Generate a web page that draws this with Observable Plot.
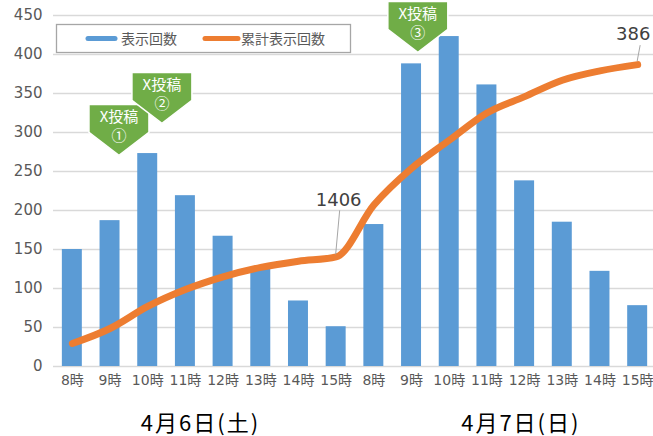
<!DOCTYPE html>
<html><head><meta charset="utf-8">
<script src="https://cdn.jsdelivr.net/npm/d3@7"></script>
<script src="https://cdn.jsdelivr.net/npm/@observablehq/plot@0.6"></script>
<style>
body{margin:0;background:#fff;}
#chart{width:653px;height:436px;}
</style></head><body><div id="chart"></div>
<script>
// ---- data ----
const hours = ["8時","9時","10時","11時","12時","13時","14時","15時","8時","9時","10時","11時","12時","13時","14時","15時"];
const views = [150,187,273,219,167,126,84,51,182,388,423,361,238,185,122,78];
const cumulative = [295,487,770,987,1150,1270,1350,1406,2070,2540,2900,3250,3460,3670,3790,3870];
const days = ["4月6日(土)","4月7日(日)"];
const dayCenters = [3.4, 11.9];
const yTicks = [0,50,100,150,200,250,300,350,400,450];
const primaryMax = 450;
const secondaryMax = 4500; // hidden secondary axis for the cumulative line
const pointLabels = [{i:7, text:"1406"}, {i:15, text:"386"}];
const posts = [{x:1.25, y:270, num:"①"}, {x:2.39, y:311, num:"②"}, {x:9.18, y:402, num:"③"}];
const legendItems = [{name:"表示回数", color:"#5B9BD5"}, {name:"累計表示回数", color:"#ED7D31"}];

const BLUE = "#5B9BD5", ORANGE = "#ED7D31", GREEN = "#70AD47";
const FONT = "'DejaVu Sans','Noto Sans CJK JP',sans-serif";
const JFONT = "'Noto Sans CJK JP',sans-serif";

const data = hours.map((h, i) => ({i, h, v: views[i], c: cumulative[i]}));
const toPrimary = c => c * primaryMax / secondaryMax;

const plot = Plot.plot({
  width: 653, height: 436,
  marginLeft: 53, marginRight: 0, marginTop: 15, marginBottom: 70,
  x: {type: "linear", domain: [-0.5, 15.42], axis: null},
  y: {domain: [0, 450], axis: null},
  style: {fontFamily: FONT, background: "white", overflow: "visible"},
  marks: [
    Plot.ruleY(yTicks, {stroke: "#D9D9D9", strokeWidth: 1.3}),
    Plot.rectY(data, {x1: d => d.i - 0.265, x2: d => d.i + 0.265, y: "v", fill: BLUE}),
    Plot.line(data, {x: "i", y: d => toPrimary(d.c), stroke: ORANGE, strokeWidth: 7,
      curve: "monotone-x", strokeLinecap: "round", strokeLinejoin: "round"}),
    Plot.axisY(yTicks, {tickSize: 0, tickPadding: 11, fontSize: 15, fill: "#595959", label: null}),
    Plot.axisX(d3.range(16), {tickSize: 0, tickPadding: 9, fontSize: 14, fill: "#595959",
      tickFormat: i => hours[i], label: null}),
    Plot.text(days, {x: (d, k) => dayCenters[k], y: 0, dy: 57, text: d => d,
      fontSize: 22, fill: "#000", fontFamily: JFONT, lineAnchor: "middle"})
  ]
});
document.getElementById("chart").appendChild(plot);

const sx = plot.scale("x"), sy = plot.scale("y");
const svg = d3.select(plot);
svg.selectAll("text").filter(function(){ return this.textContent.startsWith("4月"); })
  .attr("letter-spacing", 2);

// data labels with leader lines
const labelOffsets = [{dx:3, dy:-57, top:-46, bottom:-2, ldx:4}, {dx:-4, dy:-31, top:-19, bottom:-3, ldx:3}];
pointLabels.forEach((p, k) => {
  const o = labelOffsets[k];
  const px = sx.apply(p.i), py = sy.apply(toPrimary(cumulative[p.i]));
  svg.append("line").attr("x1", px + o.ldx).attr("y1", py + o.top).attr("x2", px).attr("y2", py + o.bottom)
    .attr("stroke", "#A6A6A6").attr("stroke-width", 1);
  svg.append("text").attr("x", px + o.dx).attr("y", py + o.dy).attr("dy", "0.36em")
    .attr("text-anchor", "middle").attr("font-size", 18).attr("font-family", FONT)
    .attr("fill", "#404040").text(p.text);
});

// legend
const lg = svg.append("g").attr("text-anchor", "start");
lg.append("rect").attr("x", 56.5).attr("y", 24.5).attr("width", 294).attr("height", 28)
  .attr("fill", "white").attr("stroke", "#A6A6A6").attr("stroke-width", 1.3);
const lx = [[88, 115, 121], [205, 238, 241]];
legendItems.forEach((it, k) => {
  lg.append("line").attr("x1", lx[k][0]).attr("x2", lx[k][1]).attr("y1", 38.5).attr("y2", 38.5)
    .attr("stroke", it.color).attr("stroke-width", 5).attr("stroke-linecap", "round");
  lg.append("text").attr("x", lx[k][2]).attr("y", 38.5).attr("dy", "0.36em")
    .attr("text-anchor", "start")
    .attr("font-size", 14).attr("font-family", JFONT).attr("fill", "#595959").text(it.name);
});

// post callouts
const cg = svg.append("g");
posts.forEach(p => {
  const tx = sx.apply(p.x), ty = sy.apply(p.y);
  cg.append("path")
    .attr("d", `M${tx-30},${ty-51}L${tx+30},${ty-51}L${tx+30},${ty-23}L${tx},${ty}L${tx-30},${ty-23}Z`)
    .attr("fill", GREEN).attr("stroke", "white").attr("stroke-width", 1.5);
  cg.append("text").attr("x", tx).attr("y", ty - 39).attr("dy", "0.36em")
    .attr("text-anchor", "middle").attr("font-size", 15).attr("font-family", JFONT)
    .attr("fill", "white").text("X投稿");
  cg.append("text").attr("x", tx).attr("y", ty - 20).attr("dy", "0.36em")
    .attr("text-anchor", "middle").attr("font-size", 15).attr("font-family", JFONT)
    .attr("fill", "white").text(p.num);
});
</script></body></html>
